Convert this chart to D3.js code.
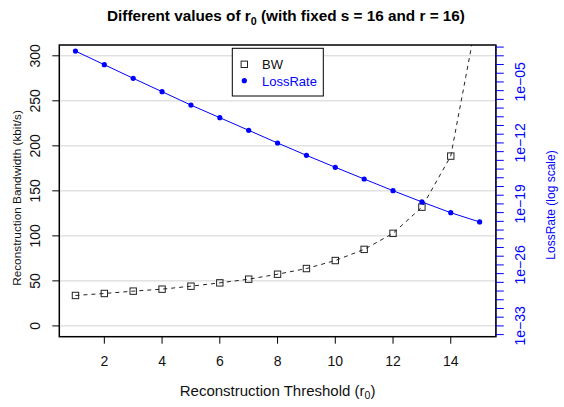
<!DOCTYPE html>
<html><head><meta charset="utf-8">
<script src="https://cdn.jsdelivr.net/npm/d3@7"></script>
<style>body{margin:0;background:#fff}svg{display:block}text{font-family:"Liberation Sans",Arial,sans-serif}</style>
</head><body><div id="chart"></div>
<script>
// ---- data ----
const r0Values = [1,2,3,4,5,6,7,8,9,10,11,12,13,14,15];
const bwValues = [33.8,36.0,38.6,40.8,44.1,47.8,51.9,57.4,63.7,72.6,85.0,102.8,131.9,188.6,358.0];
const lossValues = [3.5e-2,9.5e-4,2.6e-5,7.6e-7,2.2e-8,7.9e-10,2.8e-11,9.8e-13,3.8e-14,1.6e-15,7.2e-17,3.3e-18,1.7e-19,9.8e-21,8.5e-22];
const xTicks = [2,4,6,8,10,12,14];
const leftTicks = [0,50,100,150,200,250,300];
const rightMinorExp = d3.range(-34,0); // -34 .. -1
const rightLabelExp = [-33,-26,-19,-12,-5];
const seriesNames = ["BW","LossRate"];

// ---- layout ----
const W=564,H=407;
const L=59.3,R=495.8,T=45,B=336.7;
const blue="#0000FF";

const svg=d3.select("#chart").append("svg").attr("width",W).attr("height",H);
svg.append("rect").attr("width",W).attr("height",H).attr("fill","#fff");

const x=d3.scaleLinear().domain([0.44,15.56]).range([L,R]);
const yL=d3.scaleLinear().domain([-12,312]).range([B,T]);
const yR=d3.scaleLog().domain([Math.pow(10,-34.24),Math.pow(10,-0.76)]).range([B,T]);

svg.append("clipPath").attr("id","clip").append("rect")
  .attr("x",L).attr("y",T).attr("width",R-L).attr("height",B-T);

// grid
svg.append("g").selectAll("line").data(leftTicks).join("line")
  .attr("x1",L).attr("x2",R).attr("y1",d=>yL(d)).attr("y2",d=>yL(d))
  .attr("stroke","#d3d3d3").attr("stroke-width",1);

// BW series
const gBW=svg.append("g").attr("clip-path","url(#clip)");
gBW.append("path").datum(r0Values.map((r,i)=>[r,bwValues[i]]))
  .attr("d",d3.line().x(d=>x(d[0])).y(d=>yL(d[1])))
  .attr("fill","none").attr("stroke","#222").attr("stroke-width",1).attr("stroke-dasharray","4,4");
gBW.selectAll("rect").data(r0Values.map((r,i)=>[r,bwValues[i]])).join("rect")
  .attr("x",d=>x(d[0])-3.2).attr("y",d=>yL(d[1])-3.2).attr("width",6.4).attr("height",6.4)
  .attr("fill","none").attr("stroke","#222").attr("stroke-width",1);

// Loss series
const gLoss=svg.append("g").attr("clip-path","url(#clip)");
const lossData=r0Values.map((r,i)=>[r,lossValues[i]]);
gLoss.append("path").datum(lossData)
  .attr("d",d3.line().x(d=>x(d[0])).y(d=>yR(d[1])))
  .attr("fill","none").attr("stroke",blue).attr("stroke-width",1);
gLoss.selectAll("circle").data(lossData).join("circle")
  .attr("cx",d=>x(d[0])).attr("cy",d=>yR(d[1])).attr("r",2.6).attr("fill",blue);

// box
svg.append("rect").attr("x",L).attr("y",T).attr("width",R-L).attr("height",B-T)
  .attr("fill","none").attr("stroke","#000").attr("stroke-width",1.5);

// x axis
const gx=svg.append("g");
gx.selectAll("line").data(xTicks).join("line")
  .attr("x1",d=>x(d)).attr("x2",d=>x(d)).attr("y1",B).attr("y2",B+7)
  .attr("stroke","#000");
gx.selectAll("text").data(xTicks).join("text")
  .attr("x",d=>x(d)).attr("y",366).attr("text-anchor","middle")
  .attr("font-size",14).attr("fill","#111").text(d=>d);

// left axis
const gl=svg.append("g");
gl.selectAll("line").data(leftTicks).join("line")
  .attr("x1",L).attr("x2",L-7).attr("y1",d=>yL(d)).attr("y2",d=>yL(d))
  .attr("stroke","#000");
gl.selectAll("text").data(leftTicks).join("text")
  .attr("transform",d=>`translate(40,${yL(d)}) rotate(-90)`)
  .attr("text-anchor","middle").attr("font-size",14).attr("fill","#111").text(d=>d);

// right axis
const gr=svg.append("g");
gr.selectAll("line").data(rightMinorExp).join("line")
  .attr("x1",R).attr("x2",R+8).attr("y1",d=>yR(Math.pow(10,d))).attr("y2",d=>yR(Math.pow(10,d)))
  .attr("stroke",blue).attr("stroke-width",1);
gr.append("line").attr("x1",R).attr("x2",R).attr("y1",T).attr("y2",B)
  .attr("stroke","#141450").attr("stroke-width",1.5);
const fmtExp=e=>{const a=Math.abs(e);return "1e"+(e<0?"\u2212":"+")+(a<10?"0"+a:a);};
gr.selectAll("text").data(rightLabelExp).join("text")
  .attr("transform",d=>`translate(525,${yR(Math.pow(10,d))}) rotate(-90)`)
  .attr("text-anchor","middle").attr("font-size",14).attr("fill",blue).text(d=>fmtExp(d));

// axis titles
svg.append("text").attr("transform",`translate(21,198) rotate(-90)`)
  .attr("text-anchor","middle").attr("font-size",11.8).attr("fill","#111")
  .text("Reconstruction Bandwidth (kbit/s)");
svg.append("text").attr("transform",`translate(555,205) rotate(-90)`)
  .attr("text-anchor","middle").attr("font-size",12).attr("fill",blue)
  .text("LossRate (log scale)");
const xt=svg.append("text").attr("x",(L+R)/2).attr("y",396).attr("text-anchor","middle")
  .attr("font-size",15).attr("fill","#111");
xt.append("tspan").text("Reconstruction Threshold (r");
xt.append("tspan").attr("font-size",10.5).attr("dy",3).text("0");
xt.append("tspan").attr("dy",-3).text(")");

// title
const tt=svg.append("text").attr("x",286).attr("y",21).attr("text-anchor","middle")
  .attr("font-size",15.3).attr("font-weight","bold").attr("fill","#000");
tt.append("tspan").text("Different values of r");
tt.append("tspan").attr("font-size",10.7).attr("dy",3.5).text("0");
tt.append("tspan").attr("dy",-3.5).text(" (with fixed s = 16 and r = 16)");

// legend
const lg=svg.append("g");
lg.append("rect").attr("x",232.3).attr("y",48.3).attr("width",91).attr("height",47.7)
  .attr("fill","#fff").attr("stroke","#000").attr("stroke-width",1);
seriesNames.forEach((n,i)=>{
  const cy=64.3+i*16.4;
  if(i===0) lg.append("rect").attr("x",244.3-3.2).attr("y",cy-3.2).attr("width",6.4).attr("height",6.4)
      .attr("fill","none").attr("stroke","#222");
  else lg.append("circle").attr("cx",244.3).attr("cy",cy).attr("r",2.6).attr("fill",blue);
  lg.append("text").attr("x",262).attr("y",cy+4.8).attr("font-size",13)
    .attr("fill",i===0?"#111":blue).text(n);
});
</script></body></html>
